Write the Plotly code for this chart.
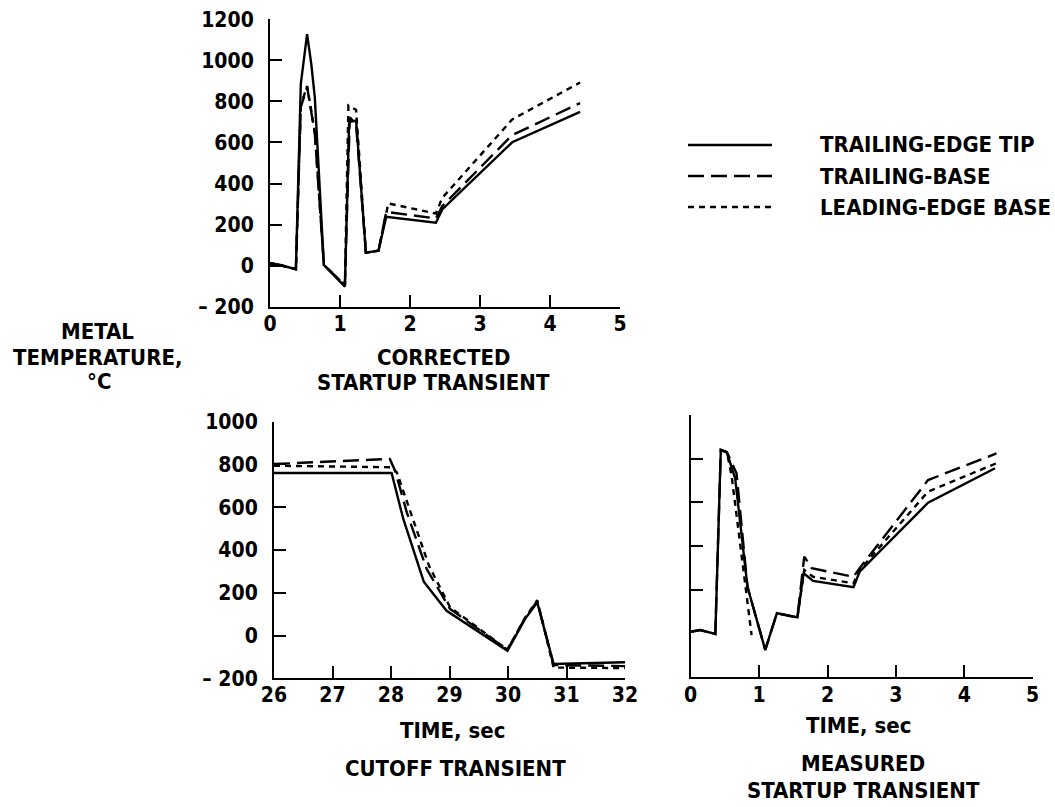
import plotly.graph_objects as go

W, H = 1055, 807
FONT = "Liberation Sans Narrow, Arial Narrow, DejaVu Sans Condensed, sans-serif"
TXT = 22
TCK = 21

# ---------- data ----------
# Corrected startup transient (time s, temp C)
cor_tip_t = [0, 0.14, 0.37, 0.44, 0.53, 0.59, 0.64, 0.77, 1.07, 1.13, 1.23, 1.37, 1.55, 1.66, 2.37, 2.46, 3.46, 4.43]
cor_tip_v = [12, 3, -17, 885, 1128, 982, 820, 3, -102, 699, 707, 63, 73, 238, 209, 274, 601, 749]
cor_tb_t = [0, 0.14, 0.37, 0.44, 0.53, 0.64, 0.77, 1.07, 1.14, 1.23, 1.37, 1.55, 1.66, 2.37, 2.46, 3.46, 4.43]
cor_tb_v = [12, 3, -17, 772, 872, 644, 3, -95, 723, 687, 63, 73, 262, 230, 290, 636, 792]
cor_le_t = [0, 0.14, 0.37, 0.44, 0.53, 0.64, 0.77, 1.07, 1.12, 1.23, 1.37, 1.55, 1.69, 2.37, 2.46, 3.46, 4.43]
cor_le_v = [12, 3, -17, 780, 875, 650, 3, -95, 780, 759, 63, 73, 303, 254, 330, 712, 892]

# Cutoff transient
cut_tip_t = [26, 28.01, 28.21, 28.56, 28.95, 29.99, 30.29, 30.5, 30.78, 32]
cut_tip_v = [760, 760, 545, 252, 116, -71, 77, 155, -133, -125]
cut_tb_t = [26, 27.98, 28.07, 28.27, 28.61, 29.01, 29.99, 30.29, 30.5, 30.78, 32]
cut_tb_v = [802, 826, 771, 576, 311, 124, -66, 80, 160, -138, -143]
cut_le_t = [26, 28.0, 28.1, 28.65, 29.01, 29.99, 30.29, 30.5, 30.78, 32]
cut_le_v = [794, 787, 763, 326, 132, -66, 82, 165, -150, -152]

# Measured startup transient
mea_tip_t = [0, 0.14, 0.36, 0.44, 0.53, 0.65, 0.83, 1.09, 1.26, 1.56, 1.65, 1.79, 2.38, 2.47, 3.47, 4.45]
mea_tip_v = [7, 15, -3, 840, 827, 710, 213, -76, 92, 73, 275, 240, 211, 282, 598, 756]
mea_tb_t = [0, 0.14, 0.36, 0.44, 0.53, 0.67, 0.83, 1.09, 1.26, 1.56, 1.66, 1.77, 2.38, 2.47, 3.47, 4.47]
mea_tb_v = [7, 15, -3, 840, 830, 733, 213, -76, 92, 73, 351, 298, 259, 298, 702, 824]
mea_le_t = [0.44, 0.53, 0.60, 0.89]
mea_le_v = [840, 830, 717, -8]
mea_le2_t = [1.56, 1.66, 1.79, 2.38, 2.47, 3.47, 4.47]
mea_le2_v = [73, 290, 259, 229, 290, 649, 779]

series_names = ["TRAILING-EDGE TIP", "TRAILING-BASE", "LEADING-EDGE BASE"]
DASH = ["solid", "16px,7px", "6px,5px"]
LW = 2.4

fig = go.Figure()

def add(t, v, k, xa, ya):
    fig.add_trace(go.Scatter(x=t, y=v, mode="lines", xaxis=xa, yaxis=ya,
                             line=dict(color="black", width=LW, dash=DASH[k]),
                             name=series_names[k], showlegend=False, hoverinfo="skip"))

# top chart
add(cor_le_t, cor_le_v, 2, "x", "y")
add(cor_tb_t, cor_tb_v, 1, "x", "y")
add(cor_tip_t, cor_tip_v, 0, "x", "y")
# bottom-left
add(cut_le_t, cut_le_v, 2, "x2", "y2")
add(cut_tb_t, cut_tb_v, 1, "x2", "y2")
add(cut_tip_t, cut_tip_v, 0, "x2", "y2")
# bottom-right
add(mea_le_t, mea_le_v, 2, "x3", "y3")
add(mea_le2_t, mea_le2_v, 2, "x3", "y3")
add(mea_tb_t, mea_tb_v, 1, "x3", "y3")
add(mea_tip_t, mea_tip_v, 0, "x3", "y3")

def px(x): return x / W
def py(y): return 1 - y / H

tickfont = dict(family=FONT, size=TCK, color="black", weight="bold")
common = dict(showgrid=False, zeroline=False, showline=True, linecolor="black", linewidth=2,
              ticks="inside", ticklen=12, tickwidth=2, tickcolor="black", tickfont=tickfont,
              automargin=False, fixedrange=True)

top_y_vals = [-200, 0, 200, 400, 600, 800, 1000, 1200]
top_y_text = ["\u2013 200", "0", "200", "400", "600", "800", "1000", "1200"]
bot_y_vals = [-200, 0, 200, 400, 600, 800, 1000]
bot_y_text = ["\u2013 200", "0", "200", "400", "600", "800", "1000"]

fig.update_layout(
    width=W, height=H, margin=dict(l=0, r=0, t=0, b=0, pad=0, autoexpand=False),
    paper_bgcolor="white", plot_bgcolor="white", showlegend=False,
    xaxis=dict(domain=[px(270), px(620)], range=[0, 5], tickvals=[0, 1, 2, 3, 4, 5],
               anchor="y", ticklabelstandoff=-3, **common),
    yaxis=dict(domain=[py(306.7), py(19.3)], range=[-200, 1200], tickvals=top_y_vals,
               ticktext=top_y_text, anchor="x", ticklabelstandoff=10, **common),
    xaxis2=dict(domain=[px(274), px(625)], range=[26, 32], tickvals=[26, 27, 28, 29, 30, 31, 32],
                anchor="y2", ticklabelstandoff=-4, **common),
    yaxis2=dict(domain=[py(678.3), py(421.7)], range=[-200, 1000], tickvals=bot_y_vals,
                ticktext=bot_y_text, anchor="x2", ticklabelstandoff=10, **common),
    xaxis3=dict(domain=[px(690.7), px(1032.7)], range=[0, 5], tickvals=[0, 1, 2, 3, 4, 5],
                anchor="y3", ticklabelstandoff=-2, **common),
    yaxis3=dict(domain=[py(677), py(415)], range=[-200, 1000], tickvals=[200, 400, 600, 800, 1000],
                showticklabels=False, anchor="x3", **common),
)

def text(s, x, y, anchor="center"):
    fig.add_annotation(text=s, x=px(x), y=py(y), xref="paper", yref="paper",
                       xanchor=anchor, yanchor="middle", showarrow=False,
                       font=dict(family=FONT, size=TXT, color="black", weight="bold"))

text("METAL", 97, 331)
text("TEMPERATURE,", 97, 357)
text("°C", 99, 381)
text("CORRECTED", 443, 357)
text("STARTUP TRANSIENT", 433, 383)
text("TIME, sec", 452, 730)
text("CUTOFF TRANSIENT", 455, 768)
text("TIME, sec", 858, 725)
text("MEASURED", 863, 763)
text("STARTUP TRANSIENT", 863, 790)

# legend
for k, yy in enumerate([145, 176, 207]):
    fig.add_shape(type="line", xref="paper", yref="paper", x0=px(688), x1=px(772), y0=py(yy), y1=py(yy),
                  line=dict(color="black", width=LW, dash=DASH[k]))
    text(series_names[k], 818, yy, anchor="left")

fig.write_html("out.html", config={"displayModeBar": False})
